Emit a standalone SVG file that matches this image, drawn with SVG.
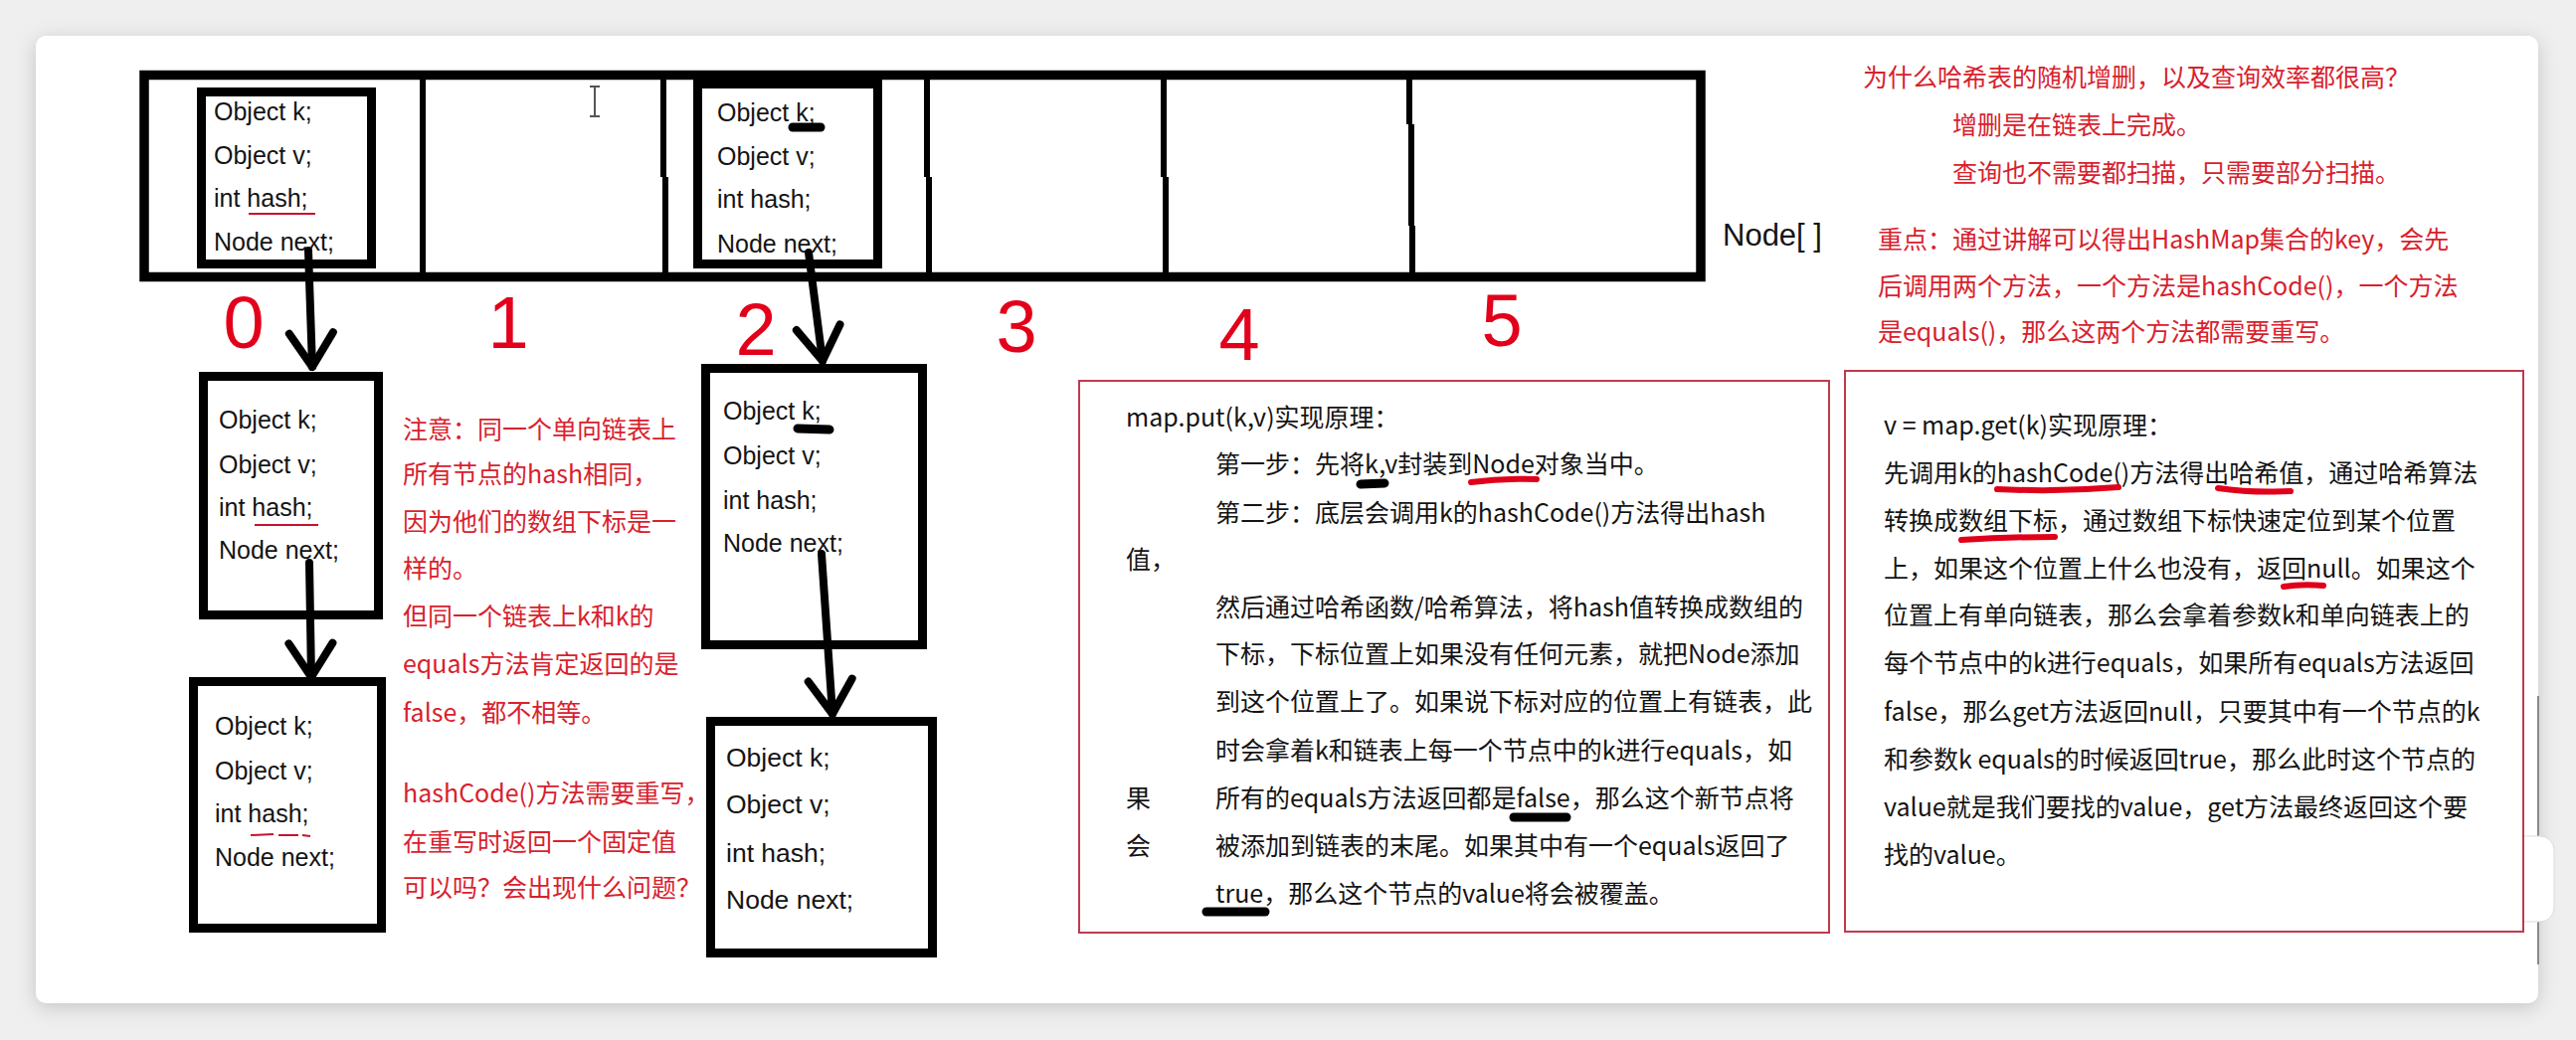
<svg xmlns="http://www.w3.org/2000/svg" width="2590" height="1046" viewBox="0 0 2590 1046">
<defs>
<style>
.nb{fill:#fff;stroke:#000;stroke-width:9}
.nt{font-family:"Liberation Sans",Arial,sans-serif;font-size:25px;fill:#141414}
.nt2{font-family:"Liberation Sans",Arial,sans-serif;font-size:26.5px;fill:#141414}
.red{font-family:"Noto Sans CJK SC",sans-serif;font-size:25px;fill:#d8212d}
.blk{font-family:"Noto Sans CJK SC",sans-serif;font-size:25px;fill:#141414}
.idx{font-family:"Liberation Sans",Arial,sans-serif;font-size:74px;fill:#e3001b;text-anchor:middle}
.conn{fill:none;stroke:#000;stroke-width:8;stroke-linecap:round;marker-end:url(#v)}
.box{fill:#fff;stroke:#bf3a4e;stroke-width:2}
.ub{fill:none;stroke:#000;stroke-width:9;stroke-linecap:round}
.ur{fill:none;stroke:#e0001a;stroke-width:6;stroke-linecap:round}
.ut{fill:none;stroke:#c8102e;stroke-width:2}
</style>
<marker id="v" markerUnits="userSpaceOnUse" viewBox="-45 -35 55 70" refX="0" refY="0" markerWidth="55" markerHeight="70" orient="auto" overflow="visible">
<path d="M-34,-22 L0,0 L-34,22" fill="none" stroke="#000" stroke-width="8" stroke-linecap="round" stroke-linejoin="round"/>
</marker>
<filter id="sh" x="-5%" y="-5%" width="110%" height="110%">
<feGaussianBlur stdDeviation="10"/>
</filter>
</defs>

<rect x="0" y="0" width="2590" height="1046" fill="#efefef"/>
<rect x="36" y="40" width="2516" height="973" rx="10" fill="#9a9a9a" opacity="0.5" filter="url(#sh)"/>
<rect x="36" y="36" width="2516" height="973" rx="10" fill="#fff"/>
<line x1="2552" y1="700" x2="2552" y2="970" stroke="#8a8a8a" stroke-width="2"/>
<rect x="2524" y="841" width="44" height="86" rx="14" fill="#fff" stroke="#dcdcdc" stroke-width="1"/>

<!-- array -->
<g id="array">
<rect x="145" y="75.5" width="1565" height="203" fill="#fff" stroke="#000" stroke-width="9.5"/>
<path d="M425,80 V274" stroke="#000" stroke-width="6" fill="none"/>
<path d="M667,80 V178 M669,178 V274" stroke="#000" stroke-width="6" fill="none"/>
<path d="M932,80 V178 M934,178 V274" stroke="#000" stroke-width="6" fill="none"/>
<path d="M1170,80 V178 M1172,178 V274" stroke="#000" stroke-width="6" fill="none"/>
<path d="M1417,80 V125 M1419,125 V227 M1420,227 V274" stroke="#000" stroke-width="6" fill="none"/>
<text x="1732" y="247" font-family="Liberation Sans, Arial, sans-serif" font-size="31" fill="#141414">Node[ ]</text>
<path d="M593,87 h10 M598,87 v30 M593,117 h10" stroke="#555" stroke-width="2" fill="none"/>
</g>

<g id="indices">
<text class="idx" x="245" y="350">0</text>
<text class="idx" x="511" y="350">1</text>
<text class="idx" x="760" y="357">2</text>
<text class="idx" x="1022" y="354">3</text>
<text class="idx" x="1246" y="362">4</text>
<text class="idx" x="1510" y="348">5</text>
</g>

<g id="node0">
<rect class="nb" x="202.5" y="92.5" width="171" height="173"/>
<text class="nt" x="215" y="121">Object k;</text>
<text class="nt" x="215" y="165">Object v;</text>
<text class="nt" x="215" y="208">int hash;</text>
<text class="nt" x="215" y="252">Node next;</text>
<path class="ut" d="M250,215 L317,215"/>
</g>

<g id="node2">
<rect class="nb" x="701.5" y="84.5" width="181" height="181"/>
<text class="nt" x="721" y="122">Object k;</text>
<text class="nt" x="721" y="166">Object v;</text>
<text class="nt" x="721" y="209">int hash;</text>
<text class="nt" x="721" y="254">Node next;</text>
<path class="ub" d="M797,128 L825,128"/>
</g>

<g id="node0b">
<rect class="nb" x="204.5" y="378.5" width="176" height="240"/>
<text class="nt" x="220" y="431">Object k;</text>
<text class="nt" x="220" y="476">Object v;</text>
<text class="nt" x="220" y="519">int hash;</text>
<text class="nt" x="220" y="562">Node next;</text>
<path class="ut" d="M256,528 L320,528"/>
</g>

<g id="node0c">
<rect class="nb" x="194.5" y="685.5" width="189" height="248"/>
<text class="nt" x="216" y="739">Object k;</text>
<text class="nt" x="216" y="784">Object v;</text>
<text class="nt" x="216" y="827">int hash;</text>
<text class="nt" x="216" y="871">Node next;</text>
<path class="ut" d="M252,840 L275,839 M280,840 L300,840 M304,840 L312,841"/>
</g>

<g id="node2b">
<rect class="nb" x="709.5" y="370.5" width="218" height="278"/>
<text class="nt" x="727" y="422">Object k;</text>
<text class="nt" x="727" y="467">Object v;</text>
<text class="nt" x="727" y="512">int hash;</text>
<text class="nt" x="727" y="555">Node next;</text>
<path class="ub" d="M802,431 L834,432"/>
</g>

<g id="node2c">
<rect class="nb" x="714.5" y="725.5" width="223" height="233"/>
<text class="nt2" x="730" y="771">Object k;</text>
<text class="nt2" x="730" y="818">Object v;</text>
<text class="nt2" x="730" y="867">int hash;</text>
<text class="nt2" x="730" y="914">Node next;</text>
</g>

<g id="connectors">
<path class="conn" d="M310,252 L314,369"/>
<path class="conn" d="M311,566 L313,681"/>
<path class="conn" d="M813,254 L827,363"/>
<path class="conn" d="M826,557 L837,718"/>
</g>

<g id="note-left">
<text class="red" x="405" y="441">注意：同一个单向链表上</text>
<text class="red" x="405" y="486">所有节点的hash相同，</text>
<text class="red" x="405" y="534">因为他们的数组下标是一</text>
<text class="red" x="405" y="581">样的。</text>
<text class="red" x="405" y="629">但同一个链表上k和k的</text>
<text class="red" x="405" y="677">equals方法肯定返回的是</text>
<text class="red" x="405" y="726">false，都不相等。</text>
<text class="red" x="405" y="807">hashCode()方法需要重写，</text>
<text class="red" x="405" y="856">在重写时返回一个固定值</text>
<text class="red" x="405" y="902">可以吗？会出现什么问题？</text>
</g>

<g id="note-top-right">
<text class="red" x="1873" y="87" font-size="24">为什么哈希表的随机增删，以及查询效率都很高？</text>
<text class="red" x="1963" y="135">增删是在链表上完成。</text>
<text class="red" x="1963" y="183">查询也不需要都扫描，只需要部分扫描。</text>
<text class="red" x="1888" y="250">重点：通过讲解可以得出HashMap集合的key，会先</text>
<text class="red" x="1888" y="297">后调用两个方法，一个方法是hashCode()，一个方法</text>
<text class="red" x="1888" y="343">是equals()，那么这两个方法都需要重写。</text>
</g>

<g id="put-box">
<rect class="box" x="1085" y="383" width="754" height="555"/>
<text class="blk" x="1132" y="429">map.put(k,v)实现原理：</text>
<text class="blk" x="1222" y="476">第一步：先将k,v封装到Node对象当中。</text>
<text class="blk" x="1222" y="525">第二步：底层会调用k的hashCode()方法得出hash</text>
<text class="blk" x="1132" y="572">值，</text>
<text class="blk" x="1222" y="620">然后通过哈希函数/哈希算法，将hash值转换成数组的</text>
<text class="blk" x="1222" y="667">下标，下标位置上如果没有任何元素，就把Node添加</text>
<text class="blk" x="1222" y="715">到这个位置上了。如果说下标对应的位置上有链表，此</text>
<text class="blk" x="1222" y="764">时会拿着k和链表上每一个节点中的k进行equals，如</text>
<text class="blk" x="1132" y="812">果</text>
<text class="blk" x="1222" y="812">所有的equals方法返回都是false，那么这个新节点将</text>
<text class="blk" x="1132" y="860">会</text>
<text class="blk" x="1222" y="860">被添加到链表的末尾。如果其中有一个equals返回了</text>
<text class="blk" x="1222" y="908">true，那么这个节点的value将会被覆盖。</text>
<path class="ub" d="M1368,487 L1392,486"/>
<path class="ur" d="M1479,485 Q1510,481 1545,482" stroke-width="8"/>
<path class="ub" d="M1522,822 L1575,822"/>
<path class="ub" d="M1213,917 L1272,917"/>
</g>

<g id="get-box">
<rect class="box" x="1855" y="373" width="682" height="564"/>
<text class="blk" x="1894" y="437">v = map.get(k)实现原理：</text>
<text class="blk" x="1894" y="485">先调用k的hashCode()方法得出哈希值，通过哈希算法</text>
<text class="blk" x="1894" y="533">转换成数组下标，通过数组下标快速定位到某个位置</text>
<text class="blk" x="1894" y="581">上，如果这个位置上什么也没有，返回null。如果这个</text>
<text class="blk" x="1894" y="628">位置上有单向链表，那么会拿着参数k和单向链表上的</text>
<text class="blk" x="1894" y="676">每个节点中的k进行equals，如果所有equals方法返回</text>
<text class="blk" x="1894" y="725">false，那么get方法返回null，只要其中有一个节点的k</text>
<text class="blk" x="1894" y="773">和参数k  equals的时候返回true，那么此时这个节点的</text>
<text class="blk" x="1894" y="821">value就是我们要找的value，get方法最终返回这个要</text>
<text class="blk" x="1894" y="869">找的value。</text>
<path class="ur" d="M2008,492 Q2070,495 2130,490"/>
<path class="ur" d="M2230,491 Q2265,496 2303,494"/>
<path class="ur" d="M1972,543 Q2020,540 2066,540"/>
<path class="ur" d="M2296,590 Q2315,587 2336,589"/>
</g>
</svg>
